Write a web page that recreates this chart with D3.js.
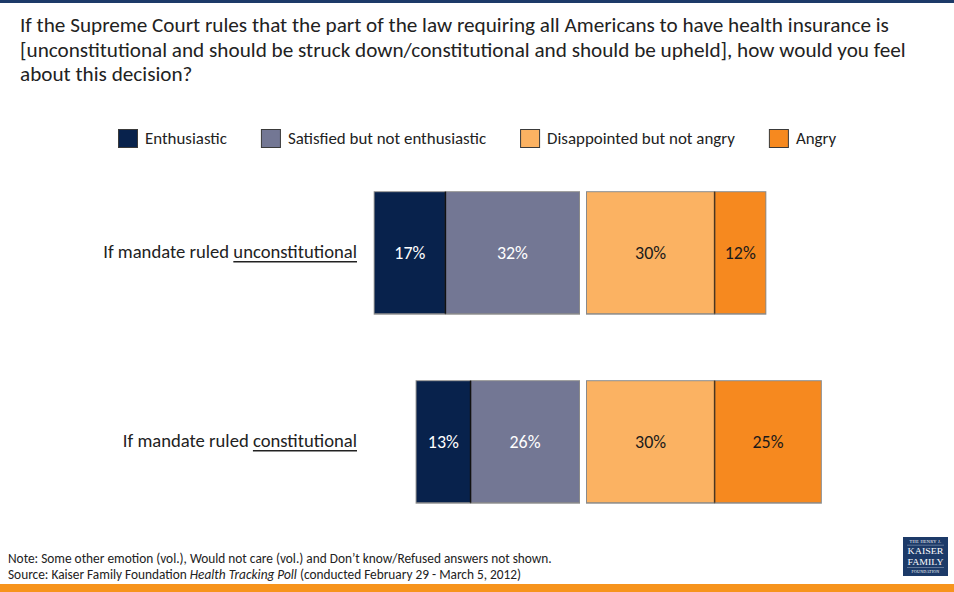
<!DOCTYPE html>
<html>
<head>
<meta charset="utf-8">
<script src="https://cdn.jsdelivr.net/npm/d3@7"></script>
<style>
  html, body { margin: 0; padding: 0; background: #fff; }
  svg { display: block; }
</style>
</head>
<body>
<svg id="chart" width="954" height="592"></svg>
<script>
// ---- data ----
const rowPrefix = "If mandate ruled ";
const categories = ["unconstitutional", "constitutional"];
const seriesNames = ["Enthusiastic", "Satisfied but not enthusiastic", "Disappointed but not angry", "Angry"];
const enthusiastic = [17, 13];
const satisfied = [32, 26];
const disappointed = [30, 30];
const angry = [12, 25];

const titleLines = [
  "If the Supreme Court rules that the part of the law requiring all Americans to have health insurance is",
  "[unconstitutional and should be struck down/constitutional and should be upheld], how would you feel",
  "about this decision?"
];
const noteText = "Note: Some other emotion (vol.), Would not care (vol.) and Don\u2019t know/Refused answers not shown.";
const sourceParts = [
  { t: "Source: Kaiser Family Foundation ", italic: false },
  { t: "Health Tracking Poll", italic: true },
  { t: " (conducted February 29 - March 5, 2012)", italic: false }
];

// ---- style ----
const FONT = "Carlito, Calibri, Lato, 'Open Sans', sans-serif";
const colors = ["#08224c", "#737794", "#fbb262", "#f6891f"];
const labelColors = ["#ffffff", "#ffffff", "#1a1a1a", "#1a1a1a"];
const INK = "#222";

const svg = d3.select("#chart");

// scale font size so a text node spans a given width
function fitWidth(sel, target) {
  const w = sel.node().getComputedTextLength();
  const fs = parseFloat(sel.attr("font-size"));
  const nfs = fs * target / w;
  sel.attr("font-size", nfs);
  return nfs;
}

// ---- frame bands ----
svg.append("rect").attr("x", 0).attr("y", 0).attr("width", 954).attr("height", 3).attr("fill", "#1c3a68");
svg.append("rect").attr("x", 0).attr("y", 584).attr("width", 954).attr("height", 8).attr("fill", "#f7941d");

// ---- title ----
const titleG = svg.append("g").attr("font-family", FONT).attr("fill", INK);
const t0 = titleG.append("text").attr("x", 20).attr("y", 32).attr("font-size", 20).text(titleLines[0]);
const titleSize = fitWidth(t0, 869);
titleLines.slice(1).forEach((line, i) => {
  titleG.append("text").attr("x", 20).attr("y", 56.5 + i * 24.5).attr("font-size", titleSize).text(line);
});

// ---- legend ----
const legendG = svg.append("g").attr("font-family", FONT).attr("fill", INK);
const probe = legendG.append("text").attr("font-size", 15).text(seriesNames[0]);
const legendSize = fitWidth(probe, 82);
probe.remove();
let lx = 118;
seriesNames.forEach((name, i) => {
  legendG.append("rect")
    .attr("x", lx + 0.5).attr("y", 129.5).attr("width", 19).attr("height", 18)
    .attr("fill", colors[i]).attr("stroke", "#3a3a3a").attr("stroke-width", 1);
  const t = legendG.append("text").attr("x", lx + 27).attr("y", 144)
    .attr("font-size", legendSize).text(name);
  lx += 27 + t.node().getComputedTextLength() + 34;
});

// ---- scales ----
const y = d3.scaleBand().domain(categories).range([191.7, 502.7]).paddingInner(67 / 189).paddingOuter(0);
const xLeft = d3.scaleLinear().domain([0, 50]).range([579.5, 579.5 - 50 * 4.19]);
const xRight = d3.scaleLinear().domain([0, 60]).range([586.5, 586.5 + 60 * 4.27]);

// segments: satisfied/enthusiastic stack leftward, disappointed/angry rightward
const segments = [];
categories.forEach((c, i) => {
  segments.push({ c, s: 1, v: satisfied[i], x0: xLeft(satisfied[i]), x1: xLeft(0) });
  segments.push({ c, s: 0, v: enthusiastic[i], x0: xLeft(satisfied[i] + enthusiastic[i]), x1: xLeft(satisfied[i]) });
  segments.push({ c, s: 2, v: disappointed[i], x0: xRight(0), x1: xRight(disappointed[i]) });
  segments.push({ c, s: 3, v: angry[i], x0: xRight(disappointed[i]), x1: xRight(disappointed[i] + angry[i]) });
});

const barsG = svg.append("g");
// soft gray outline under each half-bar
barsG.selectAll("rect.shadow")
  .data(segments)
  .join("rect")
  .attr("class", "shadow")
  .attr("x", d => d.x0 - 0.5).attr("y", d => y(d.c) - 0.5)
  .attr("width", d => d.x1 - d.x0 + 1).attr("height", y.bandwidth() + 1.5)
  .attr("fill", "#8a8a8a");
barsG.selectAll("rect.seg")
  .data(segments)
  .join("rect")
  .attr("class", "seg")
  .attr("x", d => d.x0 + 0.5).attr("y", d => y(d.c) + 0.5)
  .attr("width", d => d.x1 - d.x0 - 1).attr("height", y.bandwidth() - 1)
  .attr("fill", d => colors[d.s]);
// dark dividers between adjacent segments
barsG.selectAll("line.div")
  .data(segments.filter(d => d.s === 0 || d.s === 3))
  .join("line")
  .attr("class", "div")
  .attr("x1", d => d.s === 0 ? d.x1 : d.x0).attr("x2", d => d.s === 0 ? d.x1 : d.x0)
  .attr("y1", d => y(d.c)).attr("y2", d => y(d.c) + y.bandwidth())
  .attr("stroke", d => d.s === 0 ? "#111" : "#4a3520").attr("stroke-width", 1.5);

// value labels
const valG = svg.append("g").attr("font-family", FONT).attr("text-anchor", "middle");
const vprobe = valG.append("text").attr("font-size", 16).text("32%");
const valSize = fitWidth(vprobe, 31);
vprobe.remove();
valG.selectAll("text.val")
  .data(segments)
  .join("text")
  .attr("class", "val")
  .attr("x", d => (d.x0 + d.x1) / 2)
  .attr("y", d => y(d.c) + y.bandwidth() / 2)
  .attr("dy", "0.36em")
  .attr("font-size", valSize)
  .attr("fill", d => labelColors[d.s])
  .text(d => d.v + "%");

// row labels with underlined ruling
const rowG = svg.append("g").attr("font-family", FONT).attr("fill", INK);
const rprobe = rowG.append("text").attr("font-size", 17).text(rowPrefix + categories[0]);
const rowSize = fitWidth(rprobe, 254);
rprobe.remove();
categories.forEach(c => {
  const cy = y(c) + y.bandwidth() / 2;
  const t = rowG.append("text")
    .attr("x", 357).attr("y", cy + 5.5)
    .attr("text-anchor", "end")
    .attr("font-size", rowSize)
    .text(rowPrefix + c);
  const node = t.node();
  const start = node.getStartPositionOfChar(rowPrefix.length).x;
  const end = node.getEndPositionOfChar(rowPrefix.length + c.length - 1).x;
  rowG.append("line")
    .attr("x1", start).attr("x2", end)
    .attr("y1", cy + 9).attr("y2", cy + 9)
    .attr("stroke", INK).attr("stroke-width", 1.6);
});

// ---- footnotes ----
const footG = svg.append("g").attr("font-family", FONT).attr("fill", INK);
const note = footG.append("text").attr("x", 8).attr("y", 563).attr("font-size", 12).text(noteText);
const footSize = fitWidth(note, 544);
const src = footG.append("text").attr("x", 8).attr("y", 578.5).attr("font-size", footSize);
src.selectAll("tspan")
  .data(sourceParts)
  .join("tspan")
  .attr("font-style", d => d.italic ? "italic" : "normal")
  .text(d => d.t);

// ---- foundation mark ----
const logo = svg.append("g").attr("font-family", "'Liberation Serif', 'DejaVu Serif', serif")
  .attr("fill", "#fff").attr("text-anchor", "middle");
logo.append("rect").attr("x", 903).attr("y", 537).attr("width", 45).attr("height", 39).attr("fill", "#1c3a68");
logo.append("text").attr("x", 925.5).attr("y", 543.3).attr("font-size", 4.4).attr("letter-spacing", 0.3).text("THE HENRY J.");
logo.append("line").attr("x1", 907).attr("x2", 944).attr("y1", 545.2).attr("y2", 545.2).attr("stroke", "#c8d0e0").attr("stroke-width", 0.4);
logo.append("text").attr("x", 925.5).attr("y", 554.3).attr("font-size", 9).attr("textLength", 36).attr("lengthAdjust", "spacingAndGlyphs").text("KAISER");
logo.append("text").attr("x", 925.5).attr("y", 564.6).attr("font-size", 9).attr("textLength", 36).attr("lengthAdjust", "spacingAndGlyphs").text("FAMILY");
logo.append("line").attr("x1", 907).attr("x2", 944).attr("y1", 567.5).attr("y2", 567.5).attr("stroke", "#c8d0e0").attr("stroke-width", 0.4);
logo.append("text").attr("x", 925.5).attr("y", 573).attr("font-size", 4.0).attr("letter-spacing", 0.2).text("FOUNDATION");
</script>
</body>
</html>
